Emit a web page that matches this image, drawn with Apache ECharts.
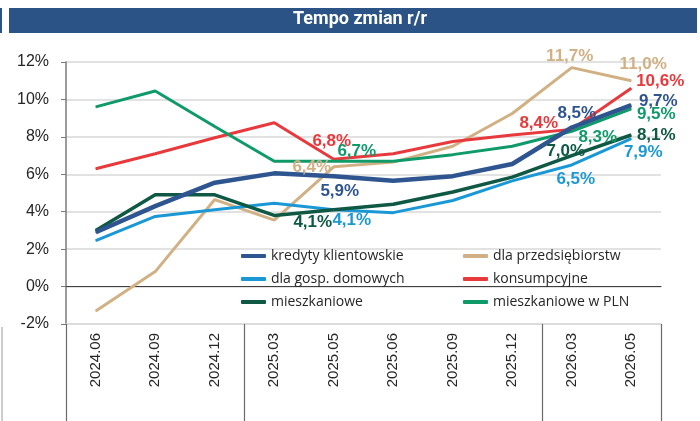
<!DOCTYPE html>
<html lang="pl">
<head>
    <meta charset="UTF-8">
    <title>Tempo zmian r/r</title>
    <script src="https://cdn.jsdelivr.net/npm/echarts@6/dist/echarts.min.js"></script>
    <style>
        html, body { margin: 0; padding: 0; background: #fff; }
        #chart { width: 700px; height: 421px; }
    </style>
</head>
<body>
<div id="chart"></div>
<script>
    // dane
    let categories = ['2024.06', '2024.09', '2024.12', '2025.03', '2025.05', '2025.06', '2025.09', '2025.12', '2026.03', '2026.05'];
    let yearStarts = [0, 3, 8];
    let yTicks = [-2, 0, 2, 4, 6, 8, 10, 12];
    let kredyty = [2.9, 4.3, 5.55, 6.05, 5.9, 5.65, 5.9, 6.55, 8.5, 9.7];
    let przedsiebiorstwa = [-1.3, 0.8, 4.65, 3.55, 6.4, 6.65, 7.5, 9.25, 11.7, 11.0];
    let gospDomowe = [2.45, 3.75, 4.1, 4.45, 4.1, 3.95, 4.6, 5.65, 6.5, 7.9];
    let konsumpcyjne = [6.3, 7.1, 7.95, 8.75, 6.8, 7.1, 7.75, 8.1, 8.4, 10.6];
    let mieszkaniowe = [3.0, 4.9, 4.9, 3.8, 4.1, 4.4, 5.05, 5.85, 7.0, 8.1];
    let mieszkaniowePLN = [9.6, 10.45, 8.55, 6.7, 6.7, 6.7, 7.05, 7.5, 8.3, 9.5];

    // podpisy: indeks punktu -> przesunięcie środka etykiety
    function withLabels(values, color, offsets) {
        return values.map(function (v, i) {
            if (!offsets[i]) return v;
            return {
                value: v,
                label: {
                    show: true,
                    position: 'inside',
                    offset: offsets[i],
                    color: color,
                    fontSize: 17,
                    fontWeight: 'bold',
                    fontFamily: 'Liberation Sans',
                    formatter: function (p) {
                        return p.value.toFixed(1).replace('.', ',') + '%';
                    }
                }
            };
        });
    }

    function line(name, values, color, width, offsets) {
        return {
            name: name,
            type: 'line',
            data: withLabels(values, color, offsets),
            symbol: 'circle',
            symbolSize: 1,
            showSymbol: true,
            itemStyle: { color: color },
            lineStyle: { color: color, width: width },
            emphasis: { disabled: true },
            animation: false
        };
    }

    let legendText = { fontSize: 14, color: '#262626', fontFamily: 'Open Sans', lineHeight: 16 };

    let chart = echarts.init(document.getElementById('chart'));
    chart.setOption({
        animation: false,
        graphic: [
            { type: 'rect', shape: { x: 9, y: 8, width: 688, height: 25 }, style: { fill: '#2b5385' }, z: -1 },
            { type: 'rect', shape: { x: 0, y: 8, width: 2, height: 25 }, style: { fill: '#2b5385' }, z: -1 },
            { type: 'line', shape: { x1: 2, y1: 327, x2: 2, y2: 421 }, style: { stroke: '#9a9a9a', lineWidth: 1 } }
        ],
        title: {
            text: 'Tempo zmian r/r',
            left: 293,
            top: 10,
            padding: 0,
            textStyle: {
                color: '#fff',
                fontSize: 18,
                fontWeight: 'bold',
                fontFamily: 'Roboto'
            }
        },
        grid: { left: 66, right: 39, top: 62, bottom: 97 },
        legend: [
            {
                data: ['kredyty klientowskie', 'dla gosp. domowych', 'mieszkaniowe'],
                orient: 'vertical',
                left: 241, top: 248, padding: 0,
                icon: 'roundRect', itemWidth: 25, itemHeight: 4, itemGap: 7,
                textStyle: legendText
            },
            {
                data: ['dla przedsiębiorstw', 'konsumpcyjne', 'mieszkaniowe w PLN'],
                orient: 'vertical',
                left: 463, top: 248, padding: 0,
                icon: 'roundRect', itemWidth: 25, itemHeight: 4, itemGap: 7,
                textStyle: legendText
            }
        ],
        xAxis: [
            {
                type: 'category',
                data: categories,
                position: 'bottom',
                axisLine: { show: false, onZero: false },
                axisTick: { length: 66, lineStyle: { color: '#6a6a6a', width: 1.2 } },
                axisLabel: { rotate: 90, margin: 9, fontSize: 15, color: '#262626', fontFamily: 'Liberation Sans' }
            },
            {
                // linie oddzielające lata
                type: 'category',
                data: categories,
                position: 'bottom',
                axisLine: { show: true, onZero: false, lineStyle: { color: '#d9d9d9', width: 1.5 } },
                axisTick: {
                    show: true,
                    length: 100,
                    interval: function (i) { return yearStarts.indexOf(i) >= 0; },
                    lineStyle: { color: '#6a6a6a', width: 1.2 }
                },
                axisLabel: { show: true, color: 'rgba(0,0,0,0)', fontSize: 1 }
            },
            {
                type: 'category',
                data: categories,
                position: 'bottom',
                axisLine: { show: true, onZero: true, lineStyle: { color: '#404040', width: 1.2 } },
                axisTick: { length: 4, lineStyle: { color: '#404040' } },
                axisLabel: { show: false }
            }
        ],
        yAxis: {
            type: 'value',
            min: yTicks[0],
            max: yTicks[yTicks.length - 1],
            interval: 2,
            axisLine: { show: true, lineStyle: { color: '#7a7a7a', width: 1.5 } },
            axisTick: { show: true, length: 5, lineStyle: { color: '#7a7a7a' } },
            axisLabel: {
                formatter: '{value}%',
                margin: 17,
                fontSize: 16,
                color: '#262626',
                fontFamily: 'Liberation Sans'
            },
            splitLine: { lineStyle: { color: '#d9d9d9', width: 1.5 } }
        },
        series: [
            line('dla przedsiębiorstw', przedsiebiorstwa, '#d1b184', 3,
                { 4: [-22, 1], 8: [-2, -11], 9: [12, -16] }),
            line('dla gosp. domowych', gospDomowe, '#1a98d5', 3,
                { 4: [18, 10], 8: [4, 14], 9: [12, 14] }),
            line('konsumpcyjne', konsumpcyjne, '#e8393c', 3,
                { 4: [-2, -18], 8: [-33, -6], 9: [29, -7] }),
            line('mieszkaniowe w PLN', mieszkaniowePLN, '#0f9a6a', 3,
                { 4: [23, -10], 8: [26, 6], 9: [25, 6] }),
            line('mieszkaniowe', mieszkaniowe, '#0f5844', 3.5,
                { 4: [-21, 12], 8: [-6, -4], 9: [25, 0] }),
            line('kredyty klientowskie', kredyty, '#2e5590', 4.5,
                { 4: [6, 15], 8: [5, -14], 9: [27, -4] })
        ]
    });
</script>
</body>
</html>
